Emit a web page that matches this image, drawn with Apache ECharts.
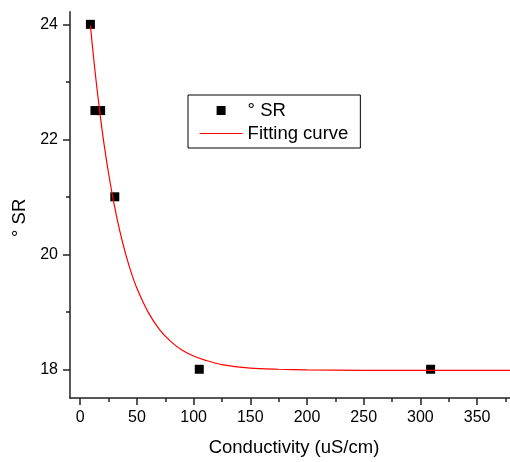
<!DOCTYPE html>
<html>
<head>
<meta charset="utf-8">
<script src="https://cdn.jsdelivr.net/npm/echarts@6/dist/echarts.min.js"></script>
<style>html,body{margin:0;padding:0;background:#fff}#c{width:510px;height:462px}</style>
</head>
<body>
<div id="c"></div>
<script>
// measured points (° SR vs conductivity)
var srX = [9, 13, 18, 30.5, 105, 309];
var srY = [24, 22.5, 22.5, 21, 18, 18];
// fitting curve
var fitX = [9, 12, 15, 18, 21, 25, 30, 35, 40, 45, 50, 60, 70, 80, 90, 100, 110, 125, 150, 175, 200, 250, 300, 380];
var fitY = [23.98, 23.38, 22.85, 22.36, 21.92, 21.41, 20.86, 20.40, 20.01, 19.68, 19.41, 18.99, 18.69, 18.48, 18.33, 18.23, 18.16, 18.08, 18.02, 18.00, 17.99, 17.98, 17.98, 17.98];
// ticks
var xMajor = [0, 50, 100, 150, 200, 250, 300, 350];
var xMinor = [25, 75, 125, 175, 225, 275, 325, 375];
var yMajor = [18, 20, 22, 24];
var yMinor = [19, 21, 23];

var font = 'Liberation Sans, Arial, sans-serif';
var axisCol = '#222';
var xMin = -9, xMax = 379, yMin = 17.5, yMax = 24.22;

var chart = echarts.init(document.getElementById('c'));
chart.setOption({
  animation: false,
  backgroundColor: '#fff',
  grid: {left: 70, right: 0, top: 11.7, bottom: 63},
  legend: {
    orient: 'vertical', left: 188, top: 95,
    padding: [6, 12, 5, 11], itemGap: 4,
    borderColor: '#000', borderWidth: 1,
    itemWidth: 43, itemHeight: 9,
    textStyle: {fontFamily: font, fontSize: 18.5, color: '#000'},
    data: [
      {name: '° SR', icon: 'path://M0,0h1v1h-1z', itemStyle: {color: '#000', opacity: 1, borderWidth: 0}},
      {name: 'Fitting curve', itemStyle: {opacity: 0}, lineStyle: {color: '#ff0000', width: 1.2, opacity: 1}}
    ]
  },
  xAxis: [{
    type: 'value', min: xMin, max: xMax,
    name: 'Conductivity (uS/cm)', nameLocation: 'middle', nameGap: 40,
    nameTextStyle: {fontFamily: font, fontSize: 18.5, color: '#000', padding: [0, 0, 0, 8]},
    axisLine: {show: true, onZero: false, lineStyle: {color: axisCol, width: 1.5}},
    axisTick: {show: true, length: 7, customValues: xMajor, lineStyle: {color: axisCol, width: 1.5}},
    axisLabel: {customValues: xMajor, margin: 12, fontFamily: font, fontSize: 16, color: '#000'},
    splitLine: {show: false}
  }, {
    type: 'value', min: xMin, max: xMax, position: 'bottom', offset: 0,
    axisLine: {show: false, onZero: false},
    axisTick: {show: true, length: 4, customValues: xMinor, lineStyle: {color: axisCol, width: 1.5}},
    axisLabel: {show: false},
    splitLine: {show: false}
  }],
  yAxis: [{
    type: 'value', min: yMin, max: yMax,
    name: '° SR', nameLocation: 'middle', nameGap: 40, nameRotate: 90,
    nameTextStyle: {fontFamily: font, fontSize: 18.5, color: '#000', padding: [0, 26, 0, 0]},
    axisLine: {show: true, onZero: false, lineStyle: {color: axisCol, width: 1.5}},
    axisTick: {show: true, length: 7, customValues: yMajor, lineStyle: {color: axisCol, width: 1.5}},
    axisLabel: {customValues: yMajor, margin: 12, fontFamily: font, fontSize: 16, color: '#000'},
    splitLine: {show: false}
  }, {
    type: 'value', min: yMin, max: yMax, position: 'left', offset: 0,
    axisLine: {show: false, onZero: false},
    axisTick: {show: true, length: 4, customValues: yMinor, lineStyle: {color: axisCol, width: 1.5}},
    axisLabel: {show: false},
    splitLine: {show: false}
  }],
  series: [{
    name: 'Fitting curve', type: 'line', smooth: 0.3,
    showSymbol: false, symbol: 'none',
    lineStyle: {color: '#ff0000', width: 1.2},
    itemStyle: {color: '#ff0000'},
    data: fitX.map(function (x, i) { return [x, fitY[i]]; }),
    z: 3
  }, {
    name: '° SR', type: 'scatter', symbol: 'rect', symbolSize: 9,
    itemStyle: {color: '#000', opacity: 1},
    data: srX.map(function (x, i) { return [x, srY[i]]; }),
    z: 2
  }]
});
</script>
</body>
</html>
